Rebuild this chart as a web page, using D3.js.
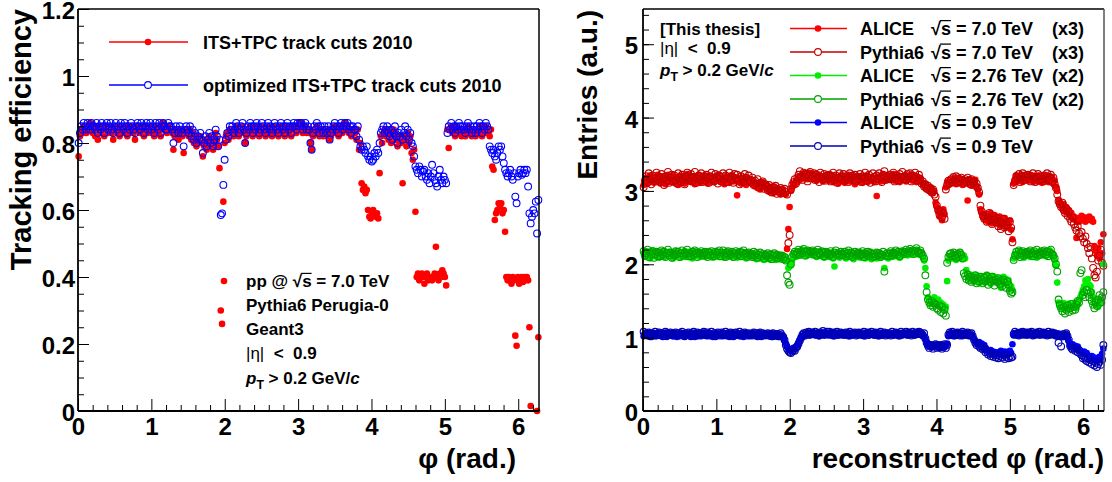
<!DOCTYPE html>
<html>
<head>
<meta charset="utf-8">
<script src="https://cdn.jsdelivr.net/npm/d3@7"></script>
<style>
  html, body { margin: 0; padding: 0; background: #fff; }
  svg { display: block; font-family: "Liberation Sans", Arial, Helvetica, sans-serif; font-weight: bold; }
  text { white-space: pre; }
</style>
</head>
<body>
<svg id="chart" width="1112" height="482"></svg>
<script>
// ---- histogram binning: 360 bins over [0, 2pi], one row below = 12 bins ----
const nBins = 360;

// ---- left: tracking efficiency vs phi (null = empty bin) ----
const effStdCuts = [
  0.76,0.82,0.84,0.83,0.85,0.84,0.83,0.85,0.84,0.86,0.85,0.83,
  0.84,0.82,0.85,0.81,0.84,0.83,0.85,0.84,0.82,0.84,0.85,0.83,
  0.84,0.85,0.83,0.81,0.84,0.85,0.83,0.84,0.82,0.85,0.84,0.83,
  0.85,0.84,0.82,0.84,0.83,0.85,0.84,0.83,0.81,0.84,0.85,0.84,
  0.83,0.85,0.84,0.82,0.84,0.85,0.83,0.84,0.85,0.83,0.84,0.82,
  0.85,0.84,0.83,0.85,0.82,0.84,0.86,0.85,0.84,0.83,0.85,0.84,
  0.84,0.83,0.78,0.82,0.84,0.83,0.81,0.84,0.83,0.82,0.77,0.83,
  0.84,0.83,0.82,0.84,0.81,0.83,0.80,0.82,0.79,0.81,0.80,0.82,
  0.80,0.76,0.79,0.81,0.78,0.80,0.82,0.79,0.81,0.78,0.80,0.83,
  0.81,0.79,0.725,0.30,0.26,0.625,0.80,0.82,0.83,0.81,0.84,0.83,
  0.84,0.82,0.83,0.85,0.84,0.82,0.83,0.84,0.85,0.83,0.80,0.82,
  0.84,0.83,0.85,0.84,0.82,0.84,0.83,0.85,0.84,0.82,0.83,0.85,
  0.84,0.83,0.82,0.84,0.85,0.83,0.84,0.82,0.83,0.85,0.84,0.83,
  0.82,0.84,0.85,0.83,0.84,0.82,0.84,0.85,0.83,0.84,0.82,0.84,
  0.85,0.84,0.83,0.85,0.84,0.86,0.85,0.83,0.84,0.85,0.83,0.84,
  0.83,0.80,0.78,0.82,0.84,0.83,0.85,0.84,0.82,0.84,0.83,0.82,
  0.84,0.83,0.82,0.84,0.81,0.82,0.83,0.84,0.85,0.83,0.84,0.82,
  0.84,0.85,0.83,0.84,0.86,0.84,0.85,0.83,0.84,0.82,0.84,0.83,
  0.83,0.81,0.84,0.78,0.80,0.68,0.66,0.67,0.65,0.66,0.60,0.58,
  0.575,0.59,0.60,0.585,0.58,0.59,0.575,0.71,0.82,0.80,0.83,0.84,
  0.82,0.84,0.81,0.83,0.80,0.82,0.84,0.83,0.81,0.79,0.82,0.80,
  0.80,0.68,0.82,0.81,0.79,0.83,0.80,0.82,0.77,0.75,0.78,0.595,
  0.40,0.41,0.39,0.40,0.41,0.40,0.38,0.40,0.41,0.39,0.40,0.40,
  0.39,0.40,0.41,0.49,0.40,0.39,0.41,0.40,0.42,0.41,0.40,0.375,
  0.84,0.785,0.84,0.85,0.83,0.84,0.82,0.85,0.84,0.83,0.84,0.82,
  0.84,0.83,0.82,0.84,0.85,0.83,0.84,0.82,0.83,0.84,0.82,0.84,
  0.83,0.85,0.84,0.82,0.84,0.83,0.85,0.84,0.83,0.82,0.84,0.73,
  0.72,0.57,0.59,0.60,0.62,0.61,0.62,0.59,0.60,0.535,0.40,0.39,
  0.40,0.39,0.38,0.40,0.39,0.225,0.195,0.40,0.38,0.39,0.40,0.385,
  0.40,0.39,0.40,0.39,0.25,0.015,null,null,null,null,0.0,0.22
];
const effOptCuts = [
  0.80,0.83,0.85,0.84,0.86,0.85,0.84,0.86,0.85,0.84,0.86,0.85,
  0.85,0.84,0.86,0.83,0.85,0.84,0.86,0.85,0.83,0.85,0.86,0.84,
  0.85,0.86,0.84,0.83,0.85,0.86,0.84,0.85,0.83,0.86,0.85,0.84,
  0.86,0.85,0.83,0.85,0.84,0.86,0.85,0.84,0.83,0.85,0.86,0.85,
  0.84,0.86,0.85,0.83,0.85,0.86,0.84,0.85,0.86,0.84,0.85,0.83,
  0.86,0.85,0.84,0.86,0.83,0.85,0.86,0.85,0.84,0.84,0.86,0.85,
  0.85,0.84,0.80,0.83,0.85,0.84,0.83,0.85,0.84,0.83,0.79,0.84,
  0.85,0.84,0.83,0.85,0.82,0.84,0.81,0.83,0.80,0.82,0.81,0.83,
  0.81,0.77,0.80,0.82,0.79,0.81,0.83,0.80,0.82,0.79,0.81,0.84,
  0.82,0.79,0.81,0.585,0.59,0.675,0.75,0.81,0.83,0.82,0.85,0.84,
  0.85,0.83,0.84,0.86,0.85,0.83,0.84,0.85,0.86,0.84,0.80,0.83,
  0.85,0.84,0.86,0.85,0.83,0.85,0.84,0.86,0.85,0.83,0.84,0.86,
  0.85,0.84,0.83,0.85,0.86,0.84,0.85,0.83,0.84,0.86,0.85,0.84,
  0.83,0.85,0.86,0.84,0.85,0.83,0.85,0.86,0.84,0.85,0.83,0.85,
  0.86,0.85,0.84,0.86,0.85,0.86,0.86,0.84,0.85,0.86,0.84,0.85,
  0.84,0.80,0.78,0.83,0.85,0.84,0.86,0.85,0.83,0.85,0.84,0.83,
  0.85,0.84,0.83,0.85,0.81,0.83,0.84,0.85,0.86,0.84,0.85,0.83,
  0.85,0.86,0.84,0.85,0.86,0.85,0.86,0.84,0.85,0.83,0.85,0.84,
  0.84,0.82,0.85,0.81,0.79,0.78,0.79,0.78,0.77,0.79,0.76,0.75,
  0.76,0.745,0.75,0.77,0.76,0.78,0.77,0.80,0.83,0.84,0.85,0.83,
  0.84,0.85,0.83,0.82,0.84,0.81,0.83,0.85,0.82,0.80,0.83,0.82,
  0.84,0.81,0.83,0.85,0.82,0.84,0.81,0.83,0.80,0.79,0.76,0.73,
  0.72,0.71,0.73,0.72,0.70,0.715,0.72,0.70,0.69,0.71,0.68,0.70,
  0.735,0.71,0.69,0.68,0.67,0.70,0.72,0.69,0.68,0.70,0.69,0.68,
  0.83,0.85,0.84,0.86,0.84,0.85,0.83,0.85,0.84,0.86,0.85,0.84,
  0.85,0.84,0.83,0.85,0.86,0.84,0.85,0.83,0.84,0.85,0.83,0.85,
  0.84,0.86,0.85,0.83,0.85,0.84,0.86,0.85,0.84,0.79,0.78,0.77,
  0.78,0.76,0.75,0.77,0.79,0.78,0.79,0.76,0.74,0.72,0.71,0.70,
  0.71,0.72,0.70,0.69,0.71,0.64,0.62,0.70,0.71,0.72,0.705,0.71,
  0.72,0.71,0.72,0.67,0.59,0.56,0.58,0.60,0.59,0.625,0.53,0.63
];

// ---- right: reconstructed phi distributions, scaled as in the legend ----
const alice7 = [
  3.08,3.12,3.18,3.10,3.15,3.21,3.13,3.17,3.11,3.19,3.14,3.22,
  3.16,3.10,3.20,3.13,3.18,3.09,3.15,3.22,3.12,3.17,3.14,3.20,
  3.11,3.19,3.15,3.08,3.17,3.21,3.13,3.16,3.10,3.18,3.23,3.14,
  3.17,3.12,3.20,3.15,3.09,3.18,3.14,3.22,3.11,3.16,3.19,3.13,
  3.21,3.15,3.10,3.18,3.13,3.20,3.16,3.12,3.19,3.14,3.22,3.17,
  3.12,3.18,3.15,3.09,3.20,3.14,3.17,3.11,3.21,3.16,3.13,3.19,
  3.15,2.94,3.12,3.18,3.10,3.16,3.13,3.19,3.08,3.14,3.17,3.11,
  3.16,3.09,3.13,3.06,3.11,3.04,3.10,3.02,3.08,3.12,3.05,3.09,
  3.03,3.07,2.99,3.05,3.01,2.97,3.06,3.00,3.04,2.98,3.02,2.95,
  2.99,3.02,2.96,2.95,2.21,2.48,2.78,3.00,3.05,3.10,3.08,3.14,
  3.12,3.18,3.15,3.21,3.17,3.24,3.19,3.22,3.16,3.25,3.20,3.18,
  3.23,3.17,3.21,3.14,3.19,3.22,3.16,3.20,3.13,3.18,3.21,3.15,
  3.19,3.14,3.22,3.17,3.12,3.20,3.15,3.18,3.10,3.16,3.21,3.13,
  3.17,3.11,3.19,3.15,3.22,3.13,3.18,3.14,3.20,3.09,3.16,3.19,
  3.13,3.20,3.16,3.11,3.18,3.15,3.21,3.12,3.17,3.14,3.19,3.16,
  3.12,3.18,2.93,3.15,3.20,3.13,3.17,3.22,3.14,3.19,3.16,3.21,
  3.15,3.20,3.17,3.23,3.14,3.19,3.16,3.21,3.12,3.18,3.15,3.20,
  3.17,3.13,3.20,3.16,3.22,3.18,3.14,3.21,3.17,3.12,3.19,3.15,
  3.18,3.12,3.08,3.10,3.04,3.07,3.02,3.05,2.99,3.03,2.97,3.00,
  2.84,2.78,2.72,2.65,2.70,2.60,2.75,2.68,3.05,3.12,3.08,3.15,
  3.10,3.16,3.12,3.18,3.09,3.14,3.11,3.17,3.13,3.08,3.15,3.12,
  3.14,2.87,3.10,3.16,3.07,3.12,3.09,3.15,3.06,3.02,2.95,2.75,
  2.70,2.64,2.68,2.60,2.66,2.58,2.63,2.70,2.56,2.62,2.67,2.59,
  2.61,2.55,2.65,2.52,2.60,2.57,2.63,2.50,2.58,2.54,2.60,2.47,
  2.34,3.10,3.16,3.21,3.13,3.18,3.15,3.22,3.12,3.19,3.16,3.20,
  3.14,3.19,3.22,3.16,3.12,3.20,3.17,3.13,3.21,3.15,3.18,3.11,
  3.19,3.14,3.21,3.16,3.12,3.20,3.15,3.18,3.10,3.14,3.05,3.00,
  2.88,2.84,2.80,2.76,2.82,2.72,2.78,2.70,2.74,2.66,2.70,2.62,
  2.65,2.60,2.36,2.63,2.58,2.62,2.66,2.60,2.64,2.58,2.63,2.61,
  2.65,2.60,2.62,2.58,2.25,2.18,2.12,2.22,2.08,2.30,2.15,2.41
];
const pythia7 = [
  3.05,3.14,3.20,3.11,3.24,3.16,3.09,3.21,3.18,3.13,3.25,3.15,
  3.19,3.12,3.23,3.17,3.08,3.20,3.14,3.26,3.11,3.18,3.22,3.13,
  3.21,3.15,3.10,3.24,3.18,3.12,3.22,3.16,3.09,3.20,3.25,3.14,
  3.18,3.23,3.13,3.19,3.26,3.11,3.17,3.21,3.15,3.24,3.12,3.20,
  3.14,3.22,3.17,3.11,3.20,3.25,3.16,3.13,3.23,3.18,3.10,3.21,
  3.19,3.13,3.24,3.16,3.21,3.12,3.18,3.25,3.15,3.20,3.11,3.23,
  3.17,3.22,3.14,3.09,3.20,3.16,3.12,3.23,3.18,3.13,3.21,3.15,
  3.12,3.18,3.08,3.14,3.10,3.16,3.05,3.11,3.07,3.13,3.03,3.09,
  3.06,3.01,3.08,3.03,2.98,3.05,3.00,3.07,2.96,3.02,2.99,3.04,
  3.01,2.97,3.03,2.99,2.95,2.29,2.40,3.02,3.08,3.12,3.16,3.10,
  3.18,3.22,3.27,3.20,3.15,3.25,3.19,3.23,3.13,3.21,3.26,3.17,
  3.20,3.24,3.15,3.22,3.18,3.12,3.25,3.19,3.16,3.23,3.14,3.21,
  3.17,3.22,3.13,3.19,3.25,3.15,3.21,3.11,3.18,3.24,3.16,3.20,
  3.23,3.14,3.20,3.17,3.12,3.24,3.18,3.21,3.15,3.22,3.13,3.19,
  3.16,3.23,3.12,3.20,3.18,3.25,3.14,3.19,3.22,3.11,3.17,3.24,
  3.19,3.13,3.21,3.16,3.24,3.18,3.12,3.22,3.27,3.15,3.20,3.17,
  3.22,3.16,3.19,3.25,3.13,3.21,3.18,3.14,3.23,3.19,3.26,3.16,
  3.20,3.15,3.23,3.18,3.24,3.13,3.21,3.17,3.25,3.19,3.14,3.22,
  3.16,3.10,3.13,3.06,3.09,3.03,3.07,3.01,3.04,2.98,3.02,2.95,
  2.92,2.80,2.74,2.68,2.72,2.64,2.70,2.62,3.02,3.08,3.14,3.10,
  3.16,3.12,3.19,3.14,3.20,3.11,3.17,3.13,3.18,3.15,3.10,3.16,
  3.12,3.18,3.14,3.09,3.16,3.11,3.13,3.07,3.10,3.04,2.98,2.80,
  2.72,2.66,2.62,2.68,2.58,2.64,2.70,2.60,2.55,2.66,2.61,2.57,
  2.63,2.52,2.59,2.48,2.56,2.62,2.50,2.57,2.53,2.45,2.58,2.50,
  2.30,3.08,3.14,3.20,3.17,3.23,3.12,3.19,3.24,3.15,3.21,3.18,
  3.22,3.16,3.13,3.20,3.24,3.17,3.12,3.19,3.23,3.14,3.20,3.16,
  3.13,3.21,3.17,3.24,3.15,3.19,3.22,3.12,3.18,3.09,3.04,2.95,
  2.86,2.82,2.78,2.84,2.74,2.70,2.76,2.66,2.72,2.62,2.58,2.64,
  2.55,2.50,2.46,2.52,2.42,2.38,2.44,2.35,2.30,2.38,2.28,2.22,
  2.15,2.24,2.08,1.95,1.85,1.82,1.90,2.05,2.12,2.20,2.02,1.98
];
const alice276 = [
  2.15,2.10,2.18,2.12,2.16,2.08,2.14,2.19,2.11,2.15,2.13,2.17,
  2.09,2.15,2.12,2.18,2.10,2.14,2.16,2.11,2.17,2.12,2.15,2.08,
  2.14,2.18,2.11,2.16,2.13,2.09,2.15,2.12,2.18,2.10,2.14,2.17,
  2.12,2.15,2.08,2.14,2.18,2.11,2.16,2.13,2.10,2.15,2.12,2.17,
  2.10,2.16,2.13,2.18,2.11,2.14,2.09,2.15,2.12,2.17,2.13,2.10,
  2.16,2.12,2.15,2.09,2.14,2.18,2.11,2.13,2.16,2.10,2.15,2.12,
  2.14,2.09,2.17,2.12,2.15,2.10,2.13,2.16,2.08,2.14,2.11,2.15,
  2.12,2.15,2.09,2.13,2.07,2.14,2.11,2.08,2.13,2.10,2.06,2.12,
  2.09,2.13,2.07,2.11,2.14,2.08,2.12,2.06,2.10,2.13,2.07,2.11,
  2.08,2.12,2.06,2.10,2.05,1.95,1.97,1.99,2.06,2.12,2.15,2.10,
  2.14,2.18,2.12,2.16,2.20,2.13,2.17,2.11,2.15,2.19,2.14,2.16,
  2.12,2.17,2.14,2.10,2.16,2.13,2.18,2.11,2.15,2.09,2.14,2.17,
  2.13,2.10,2.16,2.12,2.08,1.97,2.14,2.11,2.15,2.09,2.13,2.16,
  2.11,2.15,2.08,2.13,2.17,2.10,2.14,2.12,2.07,2.13,2.16,2.10,
  2.14,2.09,2.12,2.16,2.11,2.08,2.13,2.15,2.10,2.14,2.07,2.12,
  2.10,2.13,2.08,2.15,2.11,2.09,2.14,2.12,1.95,2.10,2.13,2.08,
  2.12,2.15,2.10,2.14,2.17,2.11,2.13,2.16,2.09,2.15,2.12,2.18,
  2.14,2.17,2.12,2.16,2.19,2.13,2.15,2.18,2.14,2.20,2.16,2.13,
  2.17,2.14,2.10,2.05,1.95,1.70,1.55,1.50,1.46,1.52,1.48,1.55,
  1.50,1.45,1.52,1.43,1.48,1.40,1.45,1.38,1.42,1.77,2.05,2.10,
  2.12,2.08,2.14,2.10,2.06,2.13,2.09,2.15,2.11,2.07,2.12,2.08,
  1.92,1.84,1.80,1.86,1.78,1.83,1.76,1.81,1.85,1.79,1.74,1.82,
  1.78,1.83,1.75,1.80,1.86,1.77,1.81,1.73,1.79,1.84,1.76,1.80,
  1.82,1.75,1.79,1.68,1.77,1.83,1.74,1.80,1.72,1.78,1.66,1.70,
  1.65,2.08,2.14,2.10,2.16,2.12,2.18,2.11,2.15,2.09,2.13,2.17,
  2.12,2.16,2.10,2.14,2.18,2.11,2.15,2.09,2.13,2.17,2.12,2.15,
  2.14,2.18,2.11,2.16,2.13,2.19,2.12,2.15,2.10,2.05,1.98,1.75,
  1.48,1.42,1.45,1.40,1.47,1.38,1.44,1.41,1.46,1.39,1.43,1.45,
  1.42,1.48,1.40,1.45,1.52,1.55,1.60,1.65,1.70,1.78,1.75,1.80,
  1.72,1.70,1.62,1.55,1.48,1.45,1.50,1.42,1.46,1.52,1.48,2.00
];
const pythia276 = [
  2.18,2.12,2.15,2.20,2.10,2.16,2.13,2.18,2.09,2.14,2.17,2.11,
  2.16,2.11,2.19,2.13,2.17,2.10,2.15,2.20,2.12,2.16,2.09,2.14,
  2.12,2.18,2.14,2.17,2.10,2.15,2.19,2.12,2.16,2.14,2.20,2.11,
  2.15,2.11,2.17,2.13,2.19,2.15,2.10,2.16,2.14,2.18,2.12,2.15,
  2.17,2.13,2.10,2.16,2.12,2.18,2.14,2.11,2.17,2.13,2.16,2.19,
  2.11,2.16,2.19,2.13,2.10,2.15,2.18,2.12,2.14,2.17,2.10,2.15,
  2.18,2.12,2.14,2.17,2.11,2.16,2.19,2.13,2.15,2.10,2.16,2.12,
  2.14,2.10,2.17,2.12,2.15,2.09,2.13,2.16,2.11,2.14,2.08,2.13,
  2.11,2.15,2.09,2.13,2.07,2.12,2.15,2.10,2.13,2.08,2.12,2.10,
  2.12,2.07,2.10,2.05,1.85,1.75,1.72,2.00,2.10,2.14,2.17,2.13,
  2.16,2.20,2.13,2.18,2.15,2.21,2.12,2.17,2.19,2.14,2.18,2.16,
  2.19,2.14,2.17,2.12,2.20,2.15,2.13,2.18,2.16,2.11,2.17,2.14,
  2.15,2.12,2.18,2.14,2.10,2.16,2.19,2.13,2.15,2.12,2.17,2.14,
  2.13,2.17,2.11,2.15,2.19,2.12,2.16,2.10,2.14,2.17,2.12,2.15,
  2.16,2.12,2.14,2.18,2.10,2.15,2.13,2.17,2.11,2.16,2.14,2.10,
  2.14,2.11,2.16,2.12,2.15,2.10,2.13,2.17,1.90,2.12,2.15,2.11,
  2.15,2.18,2.12,2.16,2.14,2.19,2.13,2.17,2.11,2.16,2.18,2.14,
  2.17,2.20,2.15,2.18,2.21,2.16,2.19,2.14,2.18,2.22,2.17,2.15,
  2.19,2.15,2.12,2.08,1.85,1.62,1.52,1.48,1.44,1.50,1.42,1.47,
  1.45,1.40,1.38,1.44,1.35,1.42,1.33,1.38,1.30,2.02,2.10,2.14,
  2.15,2.11,2.16,2.12,2.09,2.14,2.10,2.16,2.13,2.08,1.88,1.84,
  1.80,1.86,1.78,1.83,1.76,1.82,1.79,1.85,1.74,1.81,1.77,1.83,
  1.79,1.74,1.82,1.77,1.84,1.72,1.80,1.76,1.83,1.78,1.71,1.79,
  1.76,1.81,1.73,1.78,1.70,1.79,1.75,1.68,1.77,1.72,1.64,1.60,
  1.62,2.06,2.12,2.17,2.13,2.19,2.10,2.15,2.18,2.12,2.16,2.14,
  2.17,2.13,2.19,2.15,2.11,2.18,2.14,2.20,2.12,2.16,2.13,2.18,
  2.15,2.19,2.13,2.17,2.11,2.16,2.20,2.14,2.12,2.08,2.00,1.90,
  1.52,1.45,1.40,1.36,1.42,1.33,1.38,1.44,1.35,1.40,1.46,1.37,
  1.42,1.38,1.45,1.50,1.48,1.88,1.92,1.58,1.62,1.55,1.65,1.60,
  1.55,1.62,1.50,1.45,1.40,1.48,1.43,1.52,1.58,1.48,1.55,1.62
];
const alice09 = [
  1.02,1.05,1.03,1.06,1.04,1.01,1.05,1.03,1.06,1.02,1.04,1.06,
  1.03,1.05,1.02,1.06,1.04,1.07,1.01,1.04,1.06,1.03,1.05,1.02,
  1.06,1.04,1.01,1.05,1.03,1.07,1.04,1.02,1.06,1.03,1.05,1.04,
  1.02,1.06,1.03,1.05,1.01,1.04,1.06,1.02,1.05,1.03,1.07,1.04,
  1.05,1.02,1.04,1.06,1.03,1.05,1.01,1.04,1.06,1.02,1.05,1.03,
  1.04,1.06,1.02,1.05,1.03,1.06,1.04,1.01,1.05,1.03,1.06,1.02,
  1.05,1.03,1.06,1.02,1.04,1.05,1.01,1.04,1.06,1.03,1.05,1.02,
  1.04,1.06,1.03,1.05,1.02,1.04,1.06,1.03,1.01,1.04,1.05,1.02,
  1.03,1.05,1.02,1.04,1.06,1.01,1.03,1.05,1.02,1.04,1.01,1.03,
  1.02,1.00,0.96,0.92,0.88,0.85,0.83,0.82,0.84,0.86,0.85,0.88,
  0.90,0.93,0.97,1.00,1.03,1.02,1.05,1.04,1.06,1.03,1.05,1.07,
  1.04,1.06,1.03,1.05,1.07,1.02,1.05,1.04,1.06,1.03,1.05,1.06,
  1.03,1.05,1.07,1.04,1.02,1.06,1.04,1.05,1.03,1.07,1.04,1.05,
  1.06,1.03,1.05,1.04,1.07,1.02,1.05,1.03,1.06,1.04,1.05,1.03,
  1.04,1.06,1.03,1.05,1.02,1.06,1.04,1.07,1.03,1.05,1.04,1.06,
  1.03,1.05,1.07,1.04,1.02,1.05,1.06,1.03,1.05,1.04,1.06,1.03,
  1.05,1.04,1.06,1.03,1.07,1.04,1.05,1.02,1.06,1.04,1.05,1.07,
  1.04,1.06,1.03,1.05,1.07,1.04,1.06,1.03,1.05,1.06,1.04,1.05,
  1.06,1.04,1.05,1.02,0.98,0.94,0.90,0.88,0.91,0.87,0.89,0.90,
  0.88,0.91,0.87,0.89,0.86,0.90,0.88,0.87,0.89,0.92,1.02,1.05,
  1.03,1.06,1.04,1.02,1.05,1.07,1.03,1.04,1.06,1.02,1.05,1.04,
  1.06,1.03,1.05,1.02,1.04,1.01,0.98,0.95,0.93,0.91,0.94,0.90,
  0.92,0.88,0.90,0.86,0.84,0.82,0.80,0.83,0.79,0.81,0.78,0.80,
  0.77,0.80,0.78,0.82,0.76,0.79,0.81,0.77,0.80,0.78,0.82,0.79,
  0.91,1.03,1.06,1.04,1.07,1.05,1.03,1.06,1.04,1.07,1.05,1.03,
  1.06,1.04,1.07,1.05,1.03,1.06,1.04,1.07,1.05,1.03,1.06,1.04,
  1.05,1.07,1.04,1.06,1.03,1.05,1.07,1.04,1.06,1.03,1.02,1.04,
  1.03,1.05,1.02,1.04,1.01,1.03,1.05,1.00,0.95,0.90,0.88,0.91,
  0.87,0.89,0.85,0.88,0.84,0.82,0.80,0.78,0.81,0.77,0.79,0.76,
  0.74,0.72,0.75,0.70,0.73,0.68,0.71,0.69,0.74,0.72,0.78,0.85
];
const pythia09 = [
  1.08,1.04,1.06,1.03,1.07,1.05,1.02,1.06,1.04,1.08,1.03,1.05,
  1.07,1.04,1.06,1.02,1.05,1.08,1.03,1.06,1.04,1.07,1.05,1.03,
  1.05,1.07,1.04,1.06,1.03,1.05,1.08,1.04,1.02,1.06,1.04,1.07,
  1.04,1.02,1.06,1.08,1.05,1.03,1.07,1.04,1.06,1.03,1.05,1.08,
  1.06,1.04,1.07,1.03,1.05,1.08,1.04,1.06,1.02,1.05,1.07,1.04,
  1.03,1.07,1.05,1.04,1.08,1.03,1.06,1.04,1.07,1.05,1.02,1.06,
  1.07,1.04,1.05,1.08,1.03,1.06,1.04,1.07,1.05,1.03,1.06,1.04,
  1.05,1.03,1.07,1.04,1.06,1.02,1.05,1.07,1.03,1.06,1.04,1.05,
  1.04,1.06,1.03,1.05,1.02,1.06,1.04,1.03,1.05,1.02,1.04,1.06,
  1.03,1.01,0.97,0.90,0.85,0.82,0.80,0.79,0.81,0.83,0.82,0.86,
  0.88,0.92,0.96,1.00,1.04,1.06,1.03,1.07,1.05,1.08,1.04,1.06,
  1.07,1.05,1.08,1.04,1.06,1.03,1.07,1.05,1.09,1.04,1.06,1.08,
  1.05,1.08,1.04,1.06,1.07,1.03,1.06,1.08,1.04,1.05,1.07,1.04,
  1.06,1.04,1.07,1.05,1.03,1.08,1.04,1.06,1.05,1.07,1.03,1.06,
  1.07,1.05,1.04,1.06,1.08,1.03,1.05,1.07,1.04,1.06,1.08,1.05,
  1.04,1.07,1.05,1.03,1.06,1.08,1.04,1.05,1.07,1.03,1.06,1.04,
  1.06,1.03,1.08,1.05,1.04,1.07,1.05,1.06,1.03,1.08,1.04,1.06,
  1.05,1.08,1.04,1.07,1.05,1.03,1.08,1.06,1.04,1.07,1.05,1.08,
  1.07,1.05,1.03,1.06,0.99,0.93,0.89,0.86,0.90,0.88,0.85,0.89,
  0.91,0.86,0.89,0.87,0.90,0.85,0.88,0.91,0.86,0.90,1.04,1.07,
  1.05,1.08,1.03,1.06,1.04,1.07,1.05,1.03,1.06,1.08,1.04,1.06,
  1.04,1.07,1.03,1.05,1.06,1.02,0.97,0.93,0.90,0.92,0.88,0.86,
  0.88,0.84,0.86,0.80,0.82,0.77,0.79,0.75,0.78,0.74,0.77,0.73,
  0.76,0.72,0.75,0.78,0.73,0.76,0.71,0.74,0.77,0.72,0.75,0.73,
  0.74,1.05,1.08,1.04,1.06,1.03,1.07,1.05,1.08,1.04,1.06,1.07,
  1.04,1.07,1.05,1.08,1.03,1.06,1.04,1.07,1.05,1.08,1.04,1.06,
  1.07,1.04,1.06,1.03,1.08,1.05,1.04,1.07,1.05,1.06,1.03,1.05,
  0.93,1.04,0.88,1.02,1.05,1.03,1.06,1.02,0.97,0.89,0.86,0.84,
  0.86,0.82,0.85,0.80,0.83,0.78,0.76,0.72,0.74,0.70,0.68,0.72,
  0.66,0.70,0.64,0.68,0.62,0.66,0.60,0.64,0.67,0.63,0.70,0.90
];

// ---- axis ticks ----
const phiTicks = [0, 1, 2, 3, 4, 5, 6];
const effTicks = [0, 0.2, 0.4, 0.6, 0.8, 1, 1.2];
const entryTicks = [0, 1, 2, 3, 4, 5];

// ---- legend / annotation text ----
const leftLegend = [
  { label: "ITS+TPC track cuts 2010", color: "#ff0000", filled: true },
  { label: "optimized ITS+TPC track cuts 2010", color: "#0000ff", filled: false }
];
const rightLegend = [
  { name: "ALICE",   energy: "7.0",  factor: "(x3)", color: "#ff0000", filled: true },
  { name: "Pythia6", energy: "7.0",  factor: "(x3)", color: "#c00000", filled: false },
  { name: "ALICE",   energy: "2.76", factor: "(x2)", color: "#00ee00", filled: true },
  { name: "Pythia6", energy: "2.76", factor: "(x2)", color: "#00a000", filled: false },
  { name: "ALICE",   energy: "0.9",  factor: "",     color: "#0000ff", filled: true },
  { name: "Pythia6", energy: "0.9",  factor: "",     color: "#0000b4", filled: false }
];

// ---------------------------------------------------------------
const svg = d3.select("#chart");
svg.append("rect").attr("width", 1112).attr("height", 482).attr("fill", "#fff");

const TWO_PI = 2 * Math.PI;
const binCenters = d3.range(nBins).map(i => (i + 0.5) * TWO_PI / nBins);
const phiMinor = d3.range(0, 6.3, 0.2).filter(v => Math.abs(v - Math.round(v)) > 1e-6);

const FONT = '"Liberation Sans", Arial, Helvetica, sans-serif';
const R_FILL = 3.3, R_OPEN = 3.4;

function styleAxis(sel, size) {
  sel.attr("font-family", FONT).attr("font-size", size).attr("font-weight", "bold");
  sel.select(".domain").remove();
  sel.selectAll(".tick line").attr("stroke", "#000").attr("stroke-width", 1);
  sel.selectAll(".tick text").attr("fill", "#000");
}

function drawFrame(g, x, y, rightStroke) {
  const [x0, x1] = x.range(), [y0, y1] = y.range();
  g.append("line").attr("x1", x0).attr("x2", x1).attr("y1", y1).attr("y2", y1).attr("stroke", "#000").attr("stroke-width", 1.5);
  g.append("line").attr("x1", x1).attr("x2", x1).attr("y1", y1).attr("y2", y0).attr("stroke", rightStroke).attr("stroke-width", 1.5);
  g.append("line").attr("x1", x0).attr("x2", x1).attr("y1", y0).attr("y2", y0).attr("stroke", "#000").attr("stroke-width", 1.8);
  g.append("line").attr("x1", x0).attr("x2", x0).attr("y1", y1).attr("y2", y0).attr("stroke", "#000").attr("stroke-width", 1.8);
}

function drawAxes(g, x, y, yMajor, yMinor, yPad) {
  const yb = y.range()[0], xl = x.range()[0];
  g.append("g").attr("transform", `translate(0,${yb})`)
    .call(d3.axisBottom(x).tickValues(phiMinor).tickSize(-6).tickFormat(""))
    .call(s => styleAxis(s, 24));
  g.append("g").attr("transform", `translate(0,${yb})`)
    .call(d3.axisBottom(x).tickValues(phiTicks).tickSize(-12).tickPadding(7).tickFormat(d3.format("d")))
    .call(s => styleAxis(s, 24));
  g.append("g").attr("transform", `translate(${xl},0)`)
    .call(d3.axisLeft(y).tickValues(yMinor).tickSize(-6).tickFormat(""))
    .call(s => styleAxis(s, 24));
  g.append("g").attr("transform", `translate(${xl},0)`)
    .call(d3.axisLeft(y).tickValues(yMajor).tickSize(-11).tickPadding(yPad).tickFormat(d => String(d)))
    .call(s => styleAxis(s, 24))
    .call(s => s.selectAll(".tick text").attr("dy", "0.4em"));
}

function drawPoints(g, x, y, values, color, filled) {
  const pts = values.map((v, i) => ({ v, i })).filter(d => d.v !== null);
  g.append("g").selectAll("circle").data(pts).join("circle")
    .attr("cx", d => x(binCenters[d.i]))
    .attr("cy", d => y(d.v))
    .attr("r", filled ? R_FILL : R_OPEN)
    .attr("fill", filled ? color : "none")
    .attr("stroke", filled ? "none" : color)
    .attr("stroke-width", filled ? 0 : 1.1);
}

// rich text with italic / subscript / sqrt-overline segments
function richText(parent, x, y, size, segs, anchor) {
  const t = parent.append("text").attr("x", x).attr("y", y).attr("font-size", size)
    .attr("fill", "#000").attr("text-anchor", anchor || "start");
  let idx = 0;
  const overs = [];
  let shift = 0;
  segs.forEach(s => {
    const ts = t.append("tspan").text(s.t);
    if (s.it) ts.attr("font-style", "italic");
    if (s.thin) ts.attr("font-weight", "normal");
    if (s.sub) { ts.attr("dy", size * 0.32).attr("font-size", size * 0.72); shift = size * 0.32; }
    else if (shift) { ts.attr("dy", -shift); shift = 0; }
    if (s.over) overs.push([idx, idx + s.t.length - 1]);
    idx += s.t.length;
  });
  const node = t.node();
  overs.forEach(([a, b]) => {
    const ea = node.getExtentOfChar(a), eb = node.getExtentOfChar(b);
    const yy = y - size * 0.80;
    parent.append("line").attr("x1", ea.x - 1).attr("x2", eb.x + eb.width)
      .attr("y1", yy).attr("y2", yy).attr("stroke", "#000").attr("stroke-width", size * 0.07);
  });
  return t;
}

// =================== left panel ===================
const xL = d3.scaleLinear().domain([0, TWO_PI]).range([78, 539]);
const yL = d3.scaleLinear().domain([0, 1.2]).range([411, 9]);
const gL = svg.append("g");
drawPoints(gL, xL, yL, effStdCuts, "#ff0000", true);
drawPoints(gL, xL, yL, effOptCuts, "#0000ff", false);
drawAxes(gL, xL, yL, effTicks, d3.range(0, 1.2001, 0.05), 3);
drawFrame(gL, xL, yL, "#000");

gL.append("text").attr("transform", "translate(31,9) rotate(-90)")
  .attr("text-anchor", "end").attr("font-size", 29).text("Tracking efficiency");
gL.append("text").attr("x", 516).attr("y", 468).attr("text-anchor", "end")
  .attr("font-size", 28).text("\u03c6 (rad.)");

// legend, top left
leftLegend.forEach((e, k) => {
  const cy = 42 + k * 43;
  gL.append("line").attr("x1", 109).attr("x2", 188).attr("y1", cy).attr("y2", cy)
    .attr("stroke", e.color).attr("stroke-width", 1.5);
  gL.append("circle").attr("cx", 148).attr("cy", cy).attr("r", e.filled ? R_FILL : R_OPEN)
    .attr("fill", e.filled ? e.color : "#fff").attr("stroke", e.filled ? "none" : e.color).attr("stroke-width", 1.1);
  gL.append("text").attr("x", 203).attr("y", cy + 6.5).attr("font-size", 18).text(e.label);
});

// simulation info, lower left
gL.append("circle").attr("cx", 224).attr("cy", 281).attr("r", R_FILL).attr("fill", "#ff0000");
richText(gL, 246, 287, 17, [{ t: "pp @ " }, { t: "\u221a" }, { t: "s", over: true }, { t: " = 7.0 TeV" }]);
richText(gL, 246, 310.5, 17, [{ t: "Pythia6 Perugia-0" }]);
richText(gL, 246, 335, 17, [{ t: "Geant3" }]);
richText(gL, 246, 359, 17, [{ t: "|\u03b7|", thin: true }, { t: "  <  0.9" }]);
richText(gL, 246, 384, 17, [{ t: "p", it: true }, { t: "T", sub: true }, { t: " > 0.2 GeV/" }, { t: "c", it: true }]);

// =================== right panel ===================
const xR = d3.scaleLinear().domain([0, TWO_PI]).range([643, 1104]);
const yR = d3.scaleLinear().domain([0, 5.48]).range([411, 9]);
const gR = svg.append("g");
drawPoints(gR, xR, yR, alice7, rightLegend[0].color, true);
drawPoints(gR, xR, yR, pythia7, rightLegend[1].color, false);
drawPoints(gR, xR, yR, alice276, rightLegend[2].color, true);
drawPoints(gR, xR, yR, pythia276, rightLegend[3].color, false);
drawPoints(gR, xR, yR, alice09, rightLegend[4].color, true);
drawPoints(gR, xR, yR, pythia09, rightLegend[5].color, false);
drawAxes(gR, xR, yR, entryTicks, d3.range(0, 5.4001, 0.2), 5);
drawFrame(gR, xR, yR, "#555");

gR.append("text").attr("transform", "translate(597,10) rotate(-90)")
  .attr("text-anchor", "end").attr("font-size", 28).text("Entries (a.u.)");
gR.append("text").attr("x", 1104).attr("y", 468).attr("text-anchor", "end")
  .attr("font-size", 28).text("reconstructed \u03c6 (rad.)");

richText(gR, 660, 34.5, 17, [{ t: "[This thesis]" }]);
richText(gR, 660, 54, 17, [{ t: "|\u03b7|", thin: true }, { t: "  <  0.9" }]);
richText(gR, 660, 76, 17, [{ t: "p", it: true }, { t: "T", sub: true }, { t: " > 0.2 GeV/" }, { t: "c", it: true }]);

rightLegend.forEach((e, k) => {
  const cy = 28.5 + k * 23.5;
  gR.append("line").attr("x1", 790).attr("x2", 847).attr("y1", cy).attr("y2", cy)
    .attr("stroke", e.color).attr("stroke-width", 1.5);
  gR.append("circle").attr("cx", 818).attr("cy", cy).attr("r", e.filled ? R_FILL : R_OPEN)
    .attr("fill", e.filled ? e.color : "#fff").attr("stroke", e.filled ? "none" : e.color).attr("stroke-width", 1.1);
  richText(gR, 860, cy + 6.5, 18, [{ t: e.name }]);
  richText(gR, 931, cy + 6.5, 18, [{ t: "\u221a" }, { t: "s", over: true }, { t: ` = ${e.energy} TeV` }]);
  if (e.factor) richText(gR, 1052, cy + 6.5, 18, [{ t: e.factor }]);
});
</script>
</body>
</html>
